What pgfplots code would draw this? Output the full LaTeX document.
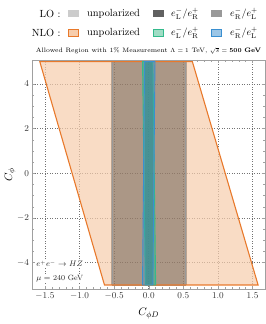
\documentclass[border=0pt]{standalone}
\usepackage{pgfplots}
\pgfplotsset{compat=1.18}
\definecolor{orEdge}{RGB}{232,121,43}
\definecolor{orFill}{RGB}{247,205,172}
\definecolor{grEdge}{RGB}{52,186,140}
\definecolor{grFill}{RGB}{160,221,197}
\definecolor{blEdge}{RGB}{58,143,208}
\definecolor{blFill}{RGB}{156,198,230}
\definecolor{frameC}{RGB}{160,160,160}
\begin{document}
\begin{tikzpicture}
\begin{axis}[
  at={(32.5bp,35bp)}, anchor=south west,
  scale only axis, width=232.5bp, height=229bp,
  xmin=-1.68, xmax=1.68, ymin=-5.18, ymax=5.07,
  xtick={-1.5,-1,-0.5,0,0.5,1,1.5},
  xticklabels={$-1.5$,$-1.0$,$-0.5$,$0.0$,$0.5$,$1.0$,$1.5$},
  ytick={-4,-2,0,2,4},
  minor x tick num=4, minor y tick num=3,
  tick align=inside, ticklabel pos=left,
  xtick pos=both, ytick pos=both,
  major tick length=3pt, minor tick length=1.6pt,
  every tick/.style={frameC, line width=0.4pt},
  axis line style={frameC, line width=0.6pt},
  grid=major, major grid style={dash pattern=on 0.7pt off 1.8pt, black!55, line width=0.55pt},
  tick label style={font=\fontsize{8.8}{10}\selectfont, text=black!80},
  xlabel={$C_{\phi D}$}, ylabel={$C_{\phi}$},
  label style={font=\fontsize{11}{12}\selectfont},
  xlabel style={yshift=-2pt},
  ylabel style={yshift=-5pt},
]
% NLO unpolarized (orange)
\addplot[fill=orFill, fill opacity=0.7, draw=none] coordinates {(-1.575,5) (0.63,5) (1.58,-5) (-0.64,-5)} -- cycle;
% LO unpolarized (light gray)
\addplot[fill=black, fill opacity=0.26, draw=none] coordinates {(-0.55,5) (0.555,5) (0.555,-5) (-0.55,-5)} -- cycle;
% LO eR eL (medium gray)
\addplot[fill=black, fill opacity=0.07, draw=black!40, line width=0.3pt] coordinates {(-0.53,5) (0.52,5) (0.52,-5) (-0.53,-5)} -- cycle;
% LO eL eR (dark gray)
\addplot[fill=black, fill opacity=0.3, draw=none] coordinates {(-0.06,5) (0.06,5) (0.06,-5) (-0.06,-5)} -- cycle;
% NLO orange outline
\addplot[draw=orEdge, line width=1.1pt] coordinates {(-1.575,5) (0.63,5) (1.58,-5) (-0.64,-5)} -- cycle;
% NLO eL eR (green)
\addplot[fill=grEdge, fill opacity=0.55, draw=grEdge, line width=0.9pt] coordinates {(-0.09,5) (0.06,5) (0.10,-5) (-0.05,-5)} -- cycle;
% NLO eR eL (blue)
\addplot[fill=blEdge, fill opacity=0.35, draw=blEdge, line width=0.9pt] coordinates {(-0.06,5) (0.09,5) (0.06,-5) (-0.09,-5)} -- cycle;
\node[anchor=west, fill=white, inner sep=1pt, font=\fontsize{7.6}{9}\selectfont, text=black!85] at (axis cs:-1.64,-4.05) {$e^{+}e^{-}\rightarrow HZ$};
\node[anchor=west, fill=white, inner sep=1pt, font=\fontsize{7.6}{9}\selectfont, text=black!85] at (axis cs:-1.64,-4.7) {$\mu =$ 240 GeV};
\end{axis}
% title
\node[font=\fontsize{6.4}{8}\selectfont] at (148.5bp,273bp) {Allowed Region with 1\% Measurement $\Lambda = 1$ TeV, $\sqrt{s} = \mathbf{500}$ \textbf{GeV}};
% legend
\begin{scope}[font=\fontsize{10.4}{12}\selectfont]
\node[anchor=east] at (64bp,310bp) {LO :};
\node[anchor=east] at (64bp,291bp) {NLO :};
\fill[black!20] (68bp,306.5bp) rectangle (79bp,313.5bp);
\node[anchor=west, inner sep=0pt] at (87bp,310bp) {unpolarized};
\fill[black!62] (153bp,306.5bp) rectangle (164bp,313.5bp);
\node[anchor=west, inner sep=0pt] at (171bp,310bp) {$e^-_{\mathrm{L}}/e^+_{\mathrm{R}}$};
\fill[black!40] (211bp,306.5bp) rectangle (222bp,313.5bp);
\node[anchor=west, inner sep=0pt] at (230bp,310bp) {$e^-_{\mathrm{R}}/e^+_{\mathrm{L}}$};
\filldraw[fill=orFill, draw=orEdge, line width=1.1pt] (68.5bp,287.5bp) rectangle (78.5bp,294.5bp);
\node[anchor=west, inner sep=0pt] at (87bp,291bp) {unpolarized};
\filldraw[fill=grFill, draw=grEdge, line width=1.1pt] (153.5bp,287.5bp) rectangle (163.5bp,294.5bp);
\node[anchor=west, inner sep=0pt] at (171bp,291bp) {$e^-_{\mathrm{L}}/e^+_{\mathrm{R}}$};
\filldraw[fill=blFill, draw=blEdge, line width=1.1pt] (211.5bp,287.5bp) rectangle (221.5bp,294.5bp);
\node[anchor=west, inner sep=0pt] at (230bp,291bp) {$e^-_{\mathrm{R}}/e^+_{\mathrm{L}}$};
\end{scope}
\pgfresetboundingbox
\path[use as bounding box] (0,0) rectangle (266bp,324bp);
\end{tikzpicture}
\end{document}
